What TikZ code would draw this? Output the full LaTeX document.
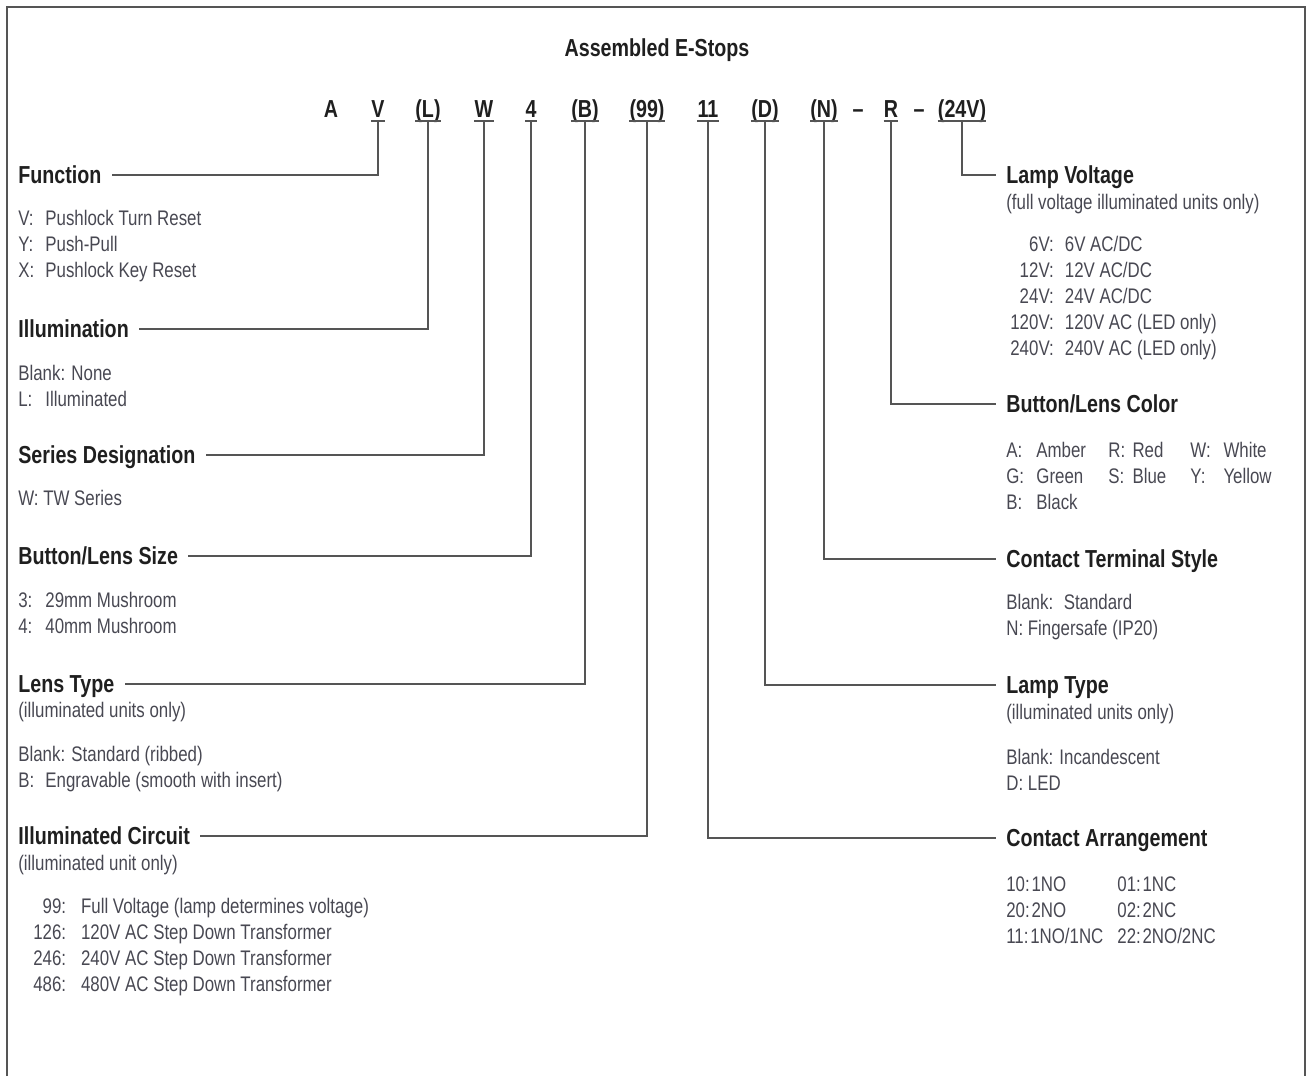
\documentclass[tikz,border=0pt]{standalone}
\usepackage{fontspec}
\setmainfont[FakeStretch=0.8]{Liberation Sans}
\definecolor{inkgray}{RGB}{72,72,82}
\definecolor{rulegray}{RGB}{85,85,85}
\newcommand{\hdrfont}{\fontsize{14}{16}\selectfont\bfseries}
\newcommand{\txtfont}{\fontsize{12}{14.8}\selectfont}
\begin{document}
\begin{tikzpicture}[x=0.02cm, y=-0.02cm,
    hdr/.style={font=\hdrfont, text=black!88, inner sep=0pt, text height=10pt, text depth=0pt, anchor=west},
    txt/.style={font=\txtfont, text=inkgray, inner sep=0pt, anchor=base west},
    code/.style={font=\hdrfont, text=black!88, inner xsep=0pt, inner ysep=2.3pt, text height=10pt, text depth=0pt, anchor=base},
    link/.style={draw=rulegray, line width=1.1pt, shorten >=5.7pt},
    uline/.style={draw=rulegray, line width=1.1pt}]
    \useasboundingbox (0,0) rectangle (1307,1076);
    \draw[rulegray, line width=1.4pt] (7,1076) -- (7,7) -- (1305,7) -- (1305,1076);

    \node[font=\hdrfont, text=black!88] (title) at (657,50) {Assembled E-Stops};

    \node[code] (a) at (331,117) {A};
    \node[code] (v) at (378,117) {V};
    \node[code] (l) at (428,117) {(L)};
    \node[code] (w) at (484,117) {W};
    \node[code] (four) at (531,117) {4};
    \node[code] (b) at (585,117) {(B)};
    \node[code] (nn) at (647,117) {(99)};
    \node[code] (eleven) at (708,117) {11};
    \node[code] (d) at (765,117) {(D)};
    \node[code] (n) at (824,117) {(N)};
    \node[code] (dashA) at (858,117) {\textendash};
    \node[code] (r) at (891,117) {R};
    \node[code] (dashB) at (919,117) {\textendash};
    \node[code] (volt) at (962,117) {(24V)};
    \foreach \c in {v,l,w,four,b,nn,eleven,d,n,r,volt}
        \draw[uline] (\c.south west) -- (\c.south east);

    \node[hdr] (fun) at (18,175) {Function};
    \node[txt] (funlst) at (18,225) {\begin{tabular}[t]{@{}p{15.4pt}@{}l@{}}V: & Pushlock Turn Reset\\ Y: & Push-Pull\\ X: & Pushlock Key Reset\end{tabular}};
    \node[hdr] (ill) at (18,329) {Illumination};
    \node[txt] (illlst) at (18,380) {\begin{tabular}[t]{@{}p{15.4pt}@{}l@{}}\multicolumn{2}{@{}l@{}}{Blank: None}\\ L: & Illuminated\end{tabular}};
    \node[hdr] (ser) at (18,455) {Series Designation};
    \node[txt] (serlst) at (18,505) {W: TW Series};
    \node[hdr] (siz) at (18,556) {Button/Lens Size};
    \node[txt] (sizlst) at (18,607) {\begin{tabular}[t]{@{}p{15.4pt}@{}l@{}}3: & 29mm Mushroom\\ 4: & 40mm Mushroom\end{tabular}};
    \node[hdr] (lns) at (18,684) {Lens Type};
    \node[txt] (lnssub) at (18,717) {(illuminated units only)};
    \node[txt] (lnslst) at (18,761) {\begin{tabular}[t]{@{}p{15.4pt}@{}l@{}}\multicolumn{2}{@{}l@{}}{Blank: Standard (ribbed)}\\ B: & Engravable (smooth with insert)\end{tabular}};
    \node[hdr] (cir) at (18,836) {Illuminated Circuit};
    \node[txt] (cirsub) at (18,870) {(illuminated unit only)};
    \node[txt] (cirlst) at (33,913) {\begin{tabular}[t]{@{}r@{\hspace{8.5pt}}l@{}}99: & Full Voltage (lamp determines voltage)\\ 126: & 120V AC Step Down Transformer\\ 246: & 240V AC Step Down Transformer\\ 486: & 480V AC Step Down Transformer\end{tabular}};

    \node[hdr] (lv) at (1006,175) {Lamp Voltage};
    \node[txt] (lvsub) at (1006,209) {(full voltage illuminated units only)};
    \node[txt] (lvlst) at (1010,251) {\begin{tabular}[t]{@{}r@{\hspace{6.3pt}}l@{}}6V: & 6V AC/DC\\ 12V: & 12V AC/DC\\ 24V: & 24V AC/DC\\ 120V: & 120V AC (LED only)\\ 240V: & 240V AC (LED only)\end{tabular}};
    \node[hdr] (col) at (1006,404) {Button/Lens Color};
    \node[txt] (collst) at (1006,457) {\begin{tabular}[t]{@{}p{17.1pt}@{}p{41pt}@{}p{13.7pt}@{}p{33pt}@{}p{18.8pt}@{}l@{}}A: & Amber & R: & Red & W: & White\\ G: & Green & S: & Blue & Y: & Yellow\\ B: & Black\end{tabular}};
    \node[hdr] (trm) at (1006,559) {Contact Terminal Style};
    \node[txt] (trmlst) at (1006,609) {\begin{tabular}[t]{@{}l@{}}Blank:\hspace{6pt}Standard\\ N: Fingersafe (IP20)\end{tabular}};
    \node[hdr] (lmp) at (1006,685) {Lamp Type};
    \node[txt] (lmpsub) at (1006,719) {(illuminated units only)};
    \node[txt] (lmplst) at (1006,764) {\begin{tabular}[t]{@{}l@{}}Blank: Incandescent\\ D: LED\end{tabular}};
    \node[hdr] (arr) at (1006,838) {Contact Arrangement};
    \node[txt] (arrlst) at (1006,891) {\begin{tabular}[t]{@{}p{63.2pt}@{}l@{}}10:\hspace{1pt}1NO & 01:\hspace{1pt}1NC\\ 20:\hspace{1pt}2NO & 02:\hspace{1pt}2NC\\ 11:\hspace{1pt}1NO/1NC & 22:\hspace{1pt}2NO/2NC\end{tabular}};

    \draw[link] (v.south) |- (fun.east);
    \draw[link] (l.south) |- (ill.east);
    \draw[link] (w.south) |- (ser.east);
    \draw[link] (four.south) |- (siz.east);
    \draw[link] (b.south) |- (lns.east);
    \draw[link] (nn.south) |- (cir.east);
    \draw[link] (eleven.south) |- (arr.west);
    \draw[link] (d.south) |- (lmp.west);
    \draw[link] (n.south) |- (trm.west);
    \draw[link] (r.south) |- (col.west);
    \draw[link] (volt.south) |- (lv.west);
\end{tikzpicture}
\end{document}
